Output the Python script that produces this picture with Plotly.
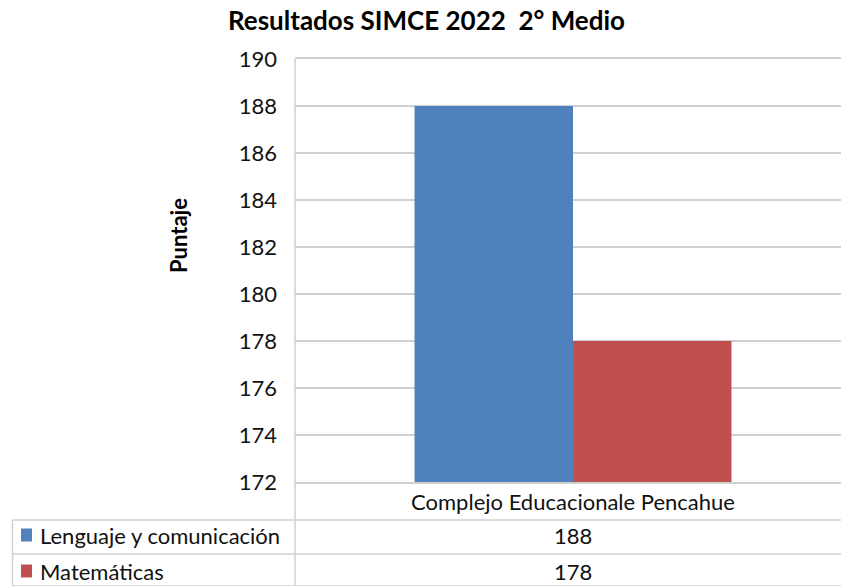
import plotly.graph_objects as go

categories = ["Complejo Educacionale Pencahue"]
series_names = ["Lenguaje y comunicación", "Matemáticas"]
lenguaje = [188]
matematicas = [178]
series_values = [lenguaje, matematicas]
colors = ["#4F81BD", "#C0504D"]
y_ticks = list(range(172, 191, 2))
title_text = "Resultados SIMCE 2022 \u00a02° Medio"
y_title = "Puntaje"

W, H = 841, 586
L, R, T, B = 295, 0, 59, 104
plot_h = H - T - B
plot_w = W - L - R
FONT = "Lato, Calibri, Carlito, sans-serif"
GRID = "#D0D0D0"
TXT = "#111111"
FS = 22

def py(p):
    # pixel y -> paper y
    return (H - B - p) / plot_h

def px(p):
    return (p - L) / plot_w

fig = go.Figure()
for name, vals, col in zip(series_names, series_values, colors):
    fig.add_trace(go.Bar(x=categories, y=vals, name=name, marker_color=col,
                         marker_line_width=0, showlegend=False, hoverinfo="skip"))

row_lines = [520, 554, 586]
row_centers = [535, 571]
shapes = []
shapes.append(dict(type="line", xref="paper", yref="paper", x0=0, x1=0,
                   y0=1, y1=py(H), line=dict(color=GRID, width=1.5)))
shapes.append(dict(type="line", xref="paper", yref="paper", x0=px(12.5), x1=px(12.5),
                   y0=py(row_lines[0]), y1=py(H), line=dict(color=GRID, width=1.5)))
for rl in row_lines:
    shapes.append(dict(type="line", xref="paper", yref="paper", x0=px(12.5), x1=1.0,
                       y0=py(rl), y1=py(rl), line=dict(color=GRID, width=1.5)))
annotations = []
for i, (name, vals, col) in enumerate(zip(series_names, series_values, colors)):
    yc = row_centers[i]
    shapes.append(dict(type="rect", xref="paper", yref="paper",
                       x0=px(21), x1=px(32), y0=py(yc - 6.5), y1=py(yc + 6.5),
                       fillcolor=col, line=dict(width=0)))
    annotations.append(dict(text=name, xref="paper", yref="paper", x=px(38), y=py(yc),
                            xanchor="left", yanchor="middle", showarrow=False,
                            font=dict(family=FONT, size=FS, color=TXT)))
    annotations.append(dict(text=str(vals[0]), xref="x", yref="paper", x=categories[0],
                            y=py(yc), xanchor="center", yanchor="middle", showarrow=False,
                            font=dict(family=FONT, size=FS, color=TXT)))
annotations.append(dict(text="<b>" + y_title + "</b>", xref="paper", yref="paper",
                        x=px(178), y=py(236), textangle=-90, showarrow=False,
                        xanchor="center", yanchor="middle",
                        font=dict(family=FONT, size=FS, color="#000000")))

scale = 556
fig.update_layout(
    width=W, height=H,
    margin=dict(l=L, r=R, t=T, b=B, autoexpand=False),
    paper_bgcolor="white", plot_bgcolor="white",
    barmode="group", bargap=0.43, bargroupgap=0,
    title=dict(text="<b>" + title_text + "</b>", x=426.5 / W, xanchor="center",
               y=1 - 21 / H, yanchor="middle", xref="container",
               font=dict(family=FONT, size=26, color="#000000")),
    xaxis=dict(range=[-0.5, plot_w / scale - 0.5], showgrid=False, showline=True,
               mirror=True, linecolor=GRID, linewidth=1.5, ticks="",
               tickfont=dict(family=FONT, size=FS, color=TXT)),
    yaxis=dict(range=[172, 190], tickvals=y_ticks, showgrid=True, gridcolor=GRID,
               gridwidth=1.5, showline=False, zeroline=False, ticks="",
               ticklabelstandoff=17,
               tickfont=dict(family=FONT, size=FS, color=TXT)),
    shapes=shapes, annotations=annotations,
)
fig.write_html("out.html", config={"displayModeBar": False},
               post_script="document.body.style.margin='0';document.body.style.overflow='hidden';")
